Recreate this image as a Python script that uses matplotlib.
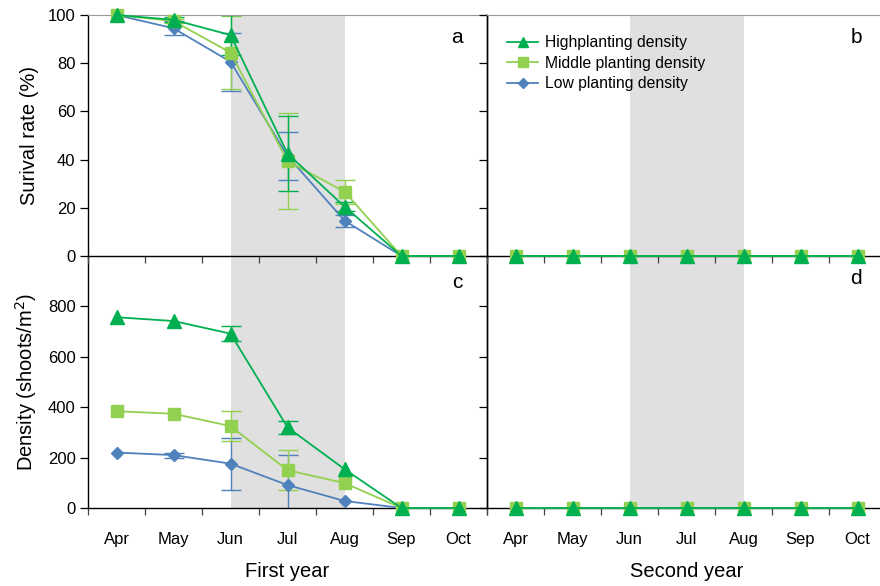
import numpy as np
import matplotlib
matplotlib.use("Agg")
import matplotlib.pyplot as plt

plt.rcParams['font.family'] = ['Liberation Sans', 'DejaVu Sans']

months = ["Apr", "May", "Jun", "Jul", "Aug", "Sep", "Oct"]
series_names = ["Highplanting density", "Middle planting density", "Low planting density"]

# First year: survival rate (%)
surv_high = [100, 98, 91.7, 42.5, 20.5, 0, 0]
surv_high_err = [0, 1, 8.3, 15.5, 2, 0, 0]
surv_mid = [100, 97.5, 84.4, 39.4, 26.7, 0, 0]
surv_mid_err = [0, 1, 15, 19.8, 5, 0, 0]
surv_low = [100, 94.5, 80.6, 41.5, 14.7, 0, 0]
surv_low_err = [0, 3, 12, 10, 2.5, 0, 0]

# First year: density (shoots/m2)
dens_high = [757, 742, 692, 320, 154, 0, 0]
dens_high_err = [0, 0, 30, 26, 0, 0, 0]
dens_mid = [384, 374, 325, 150, 99, 0, 0]
dens_mid_err = [0, 0, 60, 80, 0, 0, 0]
dens_low = [220, 210, 176, 91, 28, 0, 0]
dens_low_err = [0, 10, 103, 120, 0, 0, 0]

# Second year: nothing survived
surv2_high = [0, 0, 0, 0, 0, 0, 0]
surv2_mid = [0, 0, 0, 0, 0, 0, 0]
surv2_low = [0, 0, 0, 0, 0, 0, 0]
dens2_high = [0, 0, 0, 0, 0, 0, 0]
dens2_mid = [0, 0, 0, 0, 0, 0, 0]
dens2_low = [0, 0, 0, 0, 0, 0, 0]

c_high = "#00B050"
c_mid = "#92D050"
c_low = "#4F81BD"

styles = {
    "high": dict(color=c_high, marker="^", ms=10),
    "mid": dict(color=c_mid, marker="s", ms=9),
    "low": dict(color=c_low, marker="D", ms=6.5),
}

fig = plt.figure(figsize=(8.8, 5.86), dpi=100)
W, H = 880, 586
def rect(x0, y0, x1, y1):
    return [x0 / W, 1 - y1 / H, (x1 - x0) / W, (y1 - y0) / H]

ax_a = fig.add_axes(rect(88, 15, 487, 256))
ax_b = fig.add_axes(rect(487, 15, 886, 256))
ax_c = fig.add_axes(rect(88, 256, 487, 508))
ax_d = fig.add_axes(rect(487, 256, 886, 508))
# upper panels on top so their zero-line markers are not hidden
ax_a.set_zorder(3)
ax_b.set_zorder(3)

x = np.arange(len(months))

def draw(ax, data, ylim, yticks, letter, letter_y, show_y, show_x, top_spine):
    ax.set_facecolor("none")
    ax.axvspan(2, 4, color="#e0e0e0", lw=0, zorder=0)
    for key in ["low", "mid", "high"]:
        y, err = data[key]
        st = styles[key]
        label = {"high": series_names[0], "mid": series_names[1], "low": series_names[2]}[key]
        if err is not None:
            e = np.asarray(err, dtype=float)
            yy = np.asarray(y, dtype=float)
            sel = e > 0
            if sel.any():
                ax.errorbar(x[sel], yy[sel], yerr=e[sel], fmt="none", ecolor=st["color"],
                            elinewidth=1.0, capsize=7, capthick=1.0, zorder=2)
        ax.plot(x, y, color=st["color"], marker=st["marker"], ms=st["ms"], lw=1.3,
                mec=st["color"], label=label, zorder=3, clip_on=False)
    ax.set_xlim(-0.5, 6.5)
    ax.set_ylim(*ylim)
    ax.set_yticks(yticks)
    ax.set_xticks(np.arange(-0.5, 7, 1.0), minor=False)
    ax.set_xticklabels([])
    ax.set_xticks(x, minor=True)
    if show_x:
        ax.set_xticklabels(months, minor=True)
    ax.tick_params(axis="x", which="major", direction="out", length=5, width=0.9, color="#444444")
    ax.tick_params(axis="x", which="minor", length=0, labelsize=12, pad=17)
    ax.tick_params(axis="y", direction="out", length=6, width=0.9, labelsize=12, pad=3,
                   labelleft=show_y)
    for s in ["left", "bottom", "right"]:
        ax.spines[s].set_linewidth(1.0)
        ax.spines[s].set_color("black")
    if top_spine:
        ax.spines["top"].set_color("#999999")
        ax.spines["top"].set_linewidth(0.8)
    else:
        ax.spines["top"].set_visible(False)
    ax.text(0.925, letter_y, letter, transform=ax.transAxes, ha="center", va="center",
            fontsize=15)

draw(ax_a, {"high": (surv_high, surv_high_err), "mid": (surv_mid, surv_mid_err),
            "low": (surv_low, surv_low_err)}, (0, 100), [0, 20, 40, 60, 80, 100],
     "a", 0.905, True, False, True)
draw(ax_b, {"high": (surv2_high, None), "mid": (surv2_mid, None), "low": (surv2_low, None)},
     (0, 100), [0, 20, 40, 60, 80, 100], "b", 0.905, False, False, True)
draw(ax_c, {"high": (dens_high, dens_high_err), "mid": (dens_mid, dens_mid_err),
            "low": (dens_low, dens_low_err)}, (0, 1000), [0, 200, 400, 600, 800],
     "c", 0.895, True, True, False)
draw(ax_d, {"high": (dens2_high, None), "mid": (dens2_mid, None), "low": (dens2_low, None)},
     (0, 1000), [0, 200, 400, 600, 800], "d", 0.91, False, True, False)

ax_a.set_ylabel("Surival rate (%)", fontsize=14.5, labelpad=6)
ax_c.set_ylabel("Density (shoots/m$^2$)", fontsize=14.5, labelpad=6)
ax_c.set_xlabel("First year", fontsize=14.5, labelpad=11)
ax_d.set_xlabel("Second year", fontsize=14.5, labelpad=11)
fig.align_ylabels([ax_a, ax_c])

h, l = ax_b.get_legend_handles_labels()
order = [2, 1, 0]
leg = ax_b.legend([h[i] for i in order], [l[i] for i in order], loc="upper left",
                  bbox_to_anchor=(0.015, 0.975), frameon=False, fontsize=11.3,
                  handlelength=2.0, labelspacing=0.35, handletextpad=0.4, markerscale=0.75)

fig.savefig("out.png", dpi=100)
